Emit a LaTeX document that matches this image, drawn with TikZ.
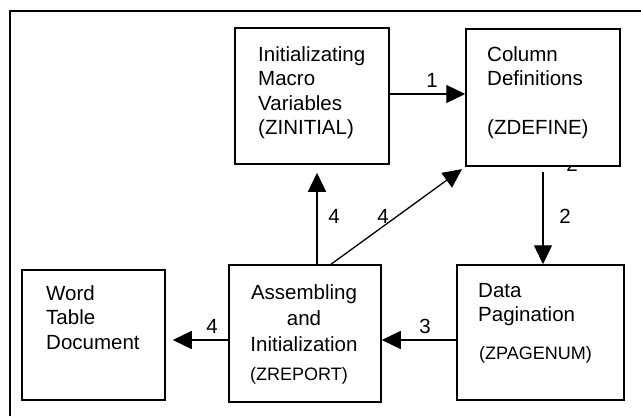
\documentclass[tikz,border=0pt]{standalone}
\usepackage{fontspec}
\setmainfont{Liberation Sans}
\usetikzlibrary{arrows.meta}
\begin{document}
\begin{tikzpicture}[x=1pt,y=-1pt,
  box/.style={draw, line width=1.5pt, fill=white, inner sep=0pt},
  arr/.style={line width=1.3pt, -{Triangle[length=19pt,width=18pt]}},
  txt/.style={inner sep=0pt, font=\fontsize{20.5}{24.5}\selectfont},
  sm/.style={inner sep=0pt, font=\fontsize{18}{22}\selectfont},
  lbl/.style={inner sep=0pt, font=\fontsize{20.5}{24}\selectfont}]
\useasboundingbox (0,0) rectangle (641,416);
\draw[line width=1.3pt] (10,416) -- (10,11) -- (641,11);
% stray label partly hidden under the box
\node[lbl, anchor=base] (stray) at (572,171) {2};
% boxes
\node[box, minimum width=154pt, minimum height=136pt] (init) at (312,96) {};
\node[box, minimum width=154pt, minimum height=137pt] (define) at (543,97.5) {};
\node[box, minimum width=143pt, minimum height=130pt] (word) at (93.5,335) {};
\node[box, minimum width=152pt, minimum height=137pt] (report) at (305,333.5) {};
\node[box, minimum width=167pt, minimum height=135pt] (page) at (540.5,332.5) {};
% texts
\node[txt, anchor=north west, align=left] (tinit) at (258,46) {Initializating\\Macro\\Variables\\(ZINITIAL)};
\node[txt, anchor=north west, align=left] (tdef) at (487,46) {Column\\Definitions\\[24.5pt](ZDEFINE)};
\node[txt, anchor=north west, align=left] (tword) at (46,285) {Word\\Table\\Document};
\node[txt, anchor=north, align=center, font=\fontsize{20.5}{26}\selectfont] (trep) at (304,284) {Assembling\\and\\Initialization};
\node[sm, anchor=base west] (trep2) at (250,380) {(ZREPORT)};
\node[txt, anchor=north west, align=left] (tpage) at (478,283) {Data\\Pagination};
\node[sm, anchor=base west] (tpage2) at (479,359) {(ZPAGENUM)};
% connectors
\draw[arr] (init.east |- 0,94) -- (define.west |- 0,94);
\draw[arr, shorten >=8pt] ([xshift=12pt]report.north) -- ([xshift=5pt]init.south);
\draw[arr, shorten >=4pt] ([xshift=26pt]report.north) -- (define.south west);
\draw[arr, shorten <=5pt] (define.south) -- (define.south |- page.north);
\draw[arr] ([yshift=-7.5pt]page.west) -- ([yshift=-7.5pt]page.west -| report.east);
\draw[arr, shorten >=7pt] ([yshift=-6.5pt]report.west) -- ([yshift=-6.5pt]report.west -| word.east);
% labels
\node[lbl] (l1) at (432,80) {1};
\node[lbl] (l2) at (565,216) {2};
\node[lbl] (l4a) at (334,216) {4};
\node[lbl] (l4b) at (383,216) {4};
\node[lbl] (l3) at (425,326) {3};
\node[lbl] (l4c) at (212,326) {4};
\end{tikzpicture}
\end{document}
